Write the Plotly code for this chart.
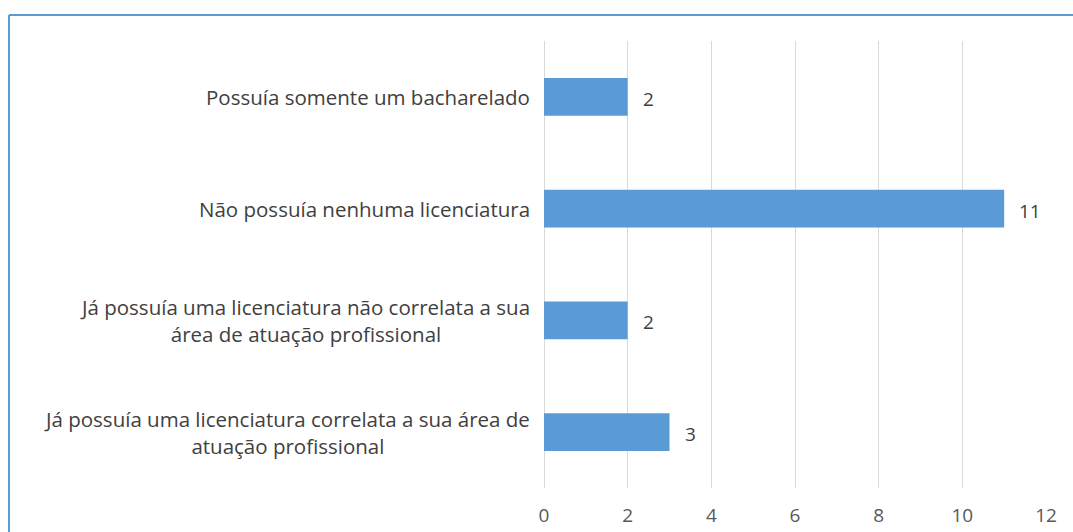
import plotly.graph_objects as go

categories = [
    "Possuía somente um bacharelado",
    "Não possuía nenhuma licenciatura",
    "Já possuía uma licenciatura não correlata a sua<br>área de atuação profissional",
    "Já possuía uma licenciatura correlata a sua área de<br>atuação profissional",
]
values = [2, 11, 2, 3]
x_ticks = [0, 2, 4, 6, 8, 10, 12]

W, H = 1073, 532
ML, MR, MT, MB = 544, 27, 41, 44
PW = W - ML - MR
PH = H - MT - MB
FONT = "Open Sans"
BLUE = "#5B9BD5"

fig = go.Figure(go.Bar(
    x=values, y=categories, orientation="h",
    marker=dict(color=BLUE, line=dict(width=0)),
    hoverinfo="skip",
))

# category labels (centered multi-line)
for c in categories:
    fig.add_annotation(
        x=0, y=c, xref="x", yref="y", text=c, showarrow=False,
        xanchor="right", align="center", xshift=-12,
        font=dict(family=FONT, size=20.5, color="#404040"),
    )
# data labels
for c, v in zip(categories, values):
    fig.add_annotation(
        x=v, y=c, xref="x", yref="y", text=str(v), showarrow=False,
        xanchor="left", xshift=13, yshift=-2,
        font=dict(family=FONT, size=19, color="#404040"),
    )

# outer border (top and left)
bx = (9 - ML) / PW
by = (H - 15 - MB) / PH
fig.add_shape(type="line", xref="paper", yref="paper", x0=bx, x1=(W - ML) / PW + 0.01,
              y0=by, y1=by, line=dict(color=BLUE, width=2))
fig.add_shape(type="line", xref="paper", yref="paper", x0=bx, x1=bx,
              y0=by, y1=-MB / PH - 0.01, line=dict(color=BLUE, width=2))

fig.update_layout(
    width=W, height=H,
    margin=dict(l=ML, r=MR, t=MT, b=MB, autoexpand=False),
    plot_bgcolor="white", paper_bgcolor="white",
    bargap=0.66,
    showlegend=False,
    xaxis=dict(
        range=[0, 12], tickvals=x_ticks, ticktext=[str(t) for t in x_ticks],
        showgrid=True, gridcolor="#d9d9d9", gridwidth=1,
        zeroline=True, zerolinecolor="#d9d9d9", zerolinewidth=1,
        showline=False, ticks="", ticklabelstandoff=14, automargin=False,
        tickfont=dict(family=FONT, size=19, color="#595959"),
        fixedrange=True,
    ),
    yaxis=dict(
        categoryorder="array", categoryarray=categories, autorange="reversed",
        showticklabels=False, showgrid=False, zeroline=False, showline=False,
        ticks="", fixedrange=True, automargin=False,
    ),
)

fig.write_html(
    "out.html",
    config={"displayModeBar": False, "staticPlot": True},
    post_script="document.body.style.margin='0';document.body.style.overflow='hidden';",
)
